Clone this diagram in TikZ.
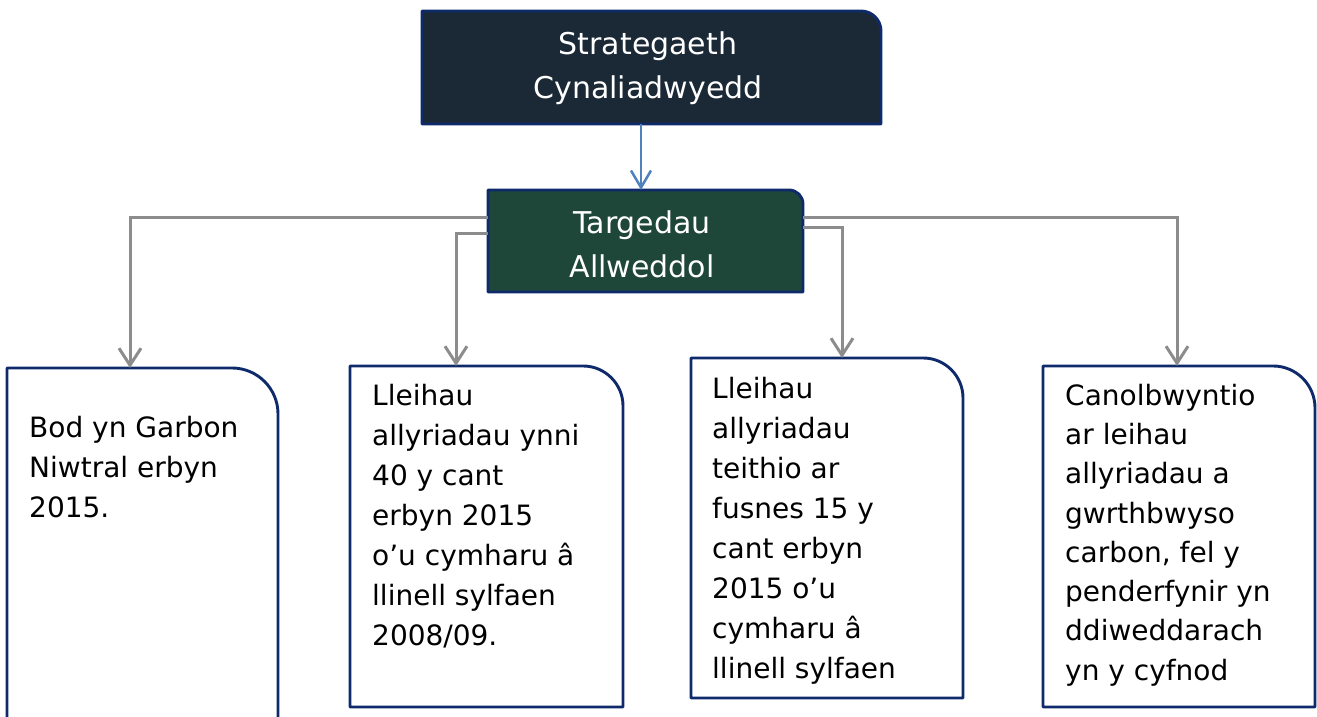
\documentclass[tikz,border=0pt]{standalone}
\usepackage{fontspec}
\setmainfont{DejaVu Sans}
\usetikzlibrary{arrows.meta}
\definecolor{topfill}{HTML}{1B2836}
\definecolor{greenfill}{HTML}{1F4739}
\definecolor{navy}{HTML}{0E2A6B}
\definecolor{conngray}{HTML}{8C8C8C}
\definecolor{connblue}{HTML}{4F81BD}
\tikzset{
  boxnode/.style={rectangle, draw=none, inner sep=0pt, outer sep=0pt},
  outline/.style={draw=navy, line width=2.9pt, line join=round},
  gconn/.style={draw=conngray, line width=3pt, -{Straight Barb[length=17pt,width=22pt]}},
  bconn/.style={draw=connblue, line width=2.5pt, -{Straight Barb[length=17pt,width=20pt]}},
  headtext/.style={text=white, font=\fontsize{30}{44}\selectfont, align=center, anchor=north, inner sep=0pt},
  bodytext/.style={text=black, font=\fontsize{28}{40}\selectfont, align=left, anchor=north west, inner sep=0pt},
}
\begin{document}
\begin{tikzpicture}[x=1pt,y=1pt]
\useasboundingbox (0,0) rectangle (1317,717);
% box nodes (shapes)
\node[boxnode, minimum width=459pt, minimum height=113pt] (s) at (651.5,649.5) {};
\node[boxnode, minimum width=315pt, minimum height=102pt] (g) at (645.5,476) {};
\node[boxnode, minimum width=271pt, minimum height=364pt] (b1) at (142.5,167) {};
\node[boxnode, minimum width=273pt, minimum height=341pt] (b2) at (486.5,180.5) {};
\node[boxnode, minimum width=272pt, minimum height=340pt] (b3) at (827,189) {};
\node[boxnode, minimum width=272pt, minimum height=341pt] (b4) at (1179,180.5) {};
% outlines with one rounded corner
\filldraw[outline, fill=topfill] (s.south west) -- (s.north west) -- ([xshift=-20pt]s.north east) arc[start angle=90,end angle=0,radius=20pt] -- (s.south east) -- cycle;
\filldraw[outline, fill=greenfill] (g.south west) -- (g.north west) -- ([xshift=-14pt]g.north east) arc[start angle=90,end angle=0,radius=14pt] -- (g.south east) -- cycle;
\draw[outline] (b1.south west) -- (b1.north west) -- ([xshift=-46pt]b1.north east) arc[start angle=90,end angle=0,radius=46pt] -- (b1.south east);
\draw[outline] (b2.south west) -- (b2.north west) -- ([xshift=-40pt]b2.north east) arc[start angle=90,end angle=0,radius=40pt] -- (b2.south east) -- cycle;
\draw[outline] (b3.south west) -- (b3.north west) -- ([xshift=-40pt]b3.north east) arc[start angle=90,end angle=0,radius=40pt] -- (b3.south east) -- cycle;
\draw[outline] (b4.south west) -- (b4.north west) -- ([xshift=-42pt]b4.north east) arc[start angle=90,end angle=0,radius=42pt] -- (b4.south east) -- cycle;
% texts
\node[headtext] (st) at (648,687) {\rule{0pt}{24pt}Strategaeth\\Cynaliadwyedd};
\node[headtext] (gt) at (642,508) {\rule{0pt}{24pt}Targedau\\Allweddol};
\node[bodytext] (t1) at (29,304) {\rule{0pt}{24pt}Bod yn Garbon\\Niwtral erbyn\\2015.};
\node[bodytext] (t2) at (372,336) {\rule{0pt}{24pt}Lleihau\\allyriadau ynni\\40 y cant\\erbyn 2015\\o’u cymharu â\\llinell sylfaen\\2008/09.};
\node[bodytext] (t3) at (712,343) {\rule{0pt}{24pt}Lleihau\\allyriadau\\teithio ar\\fusnes 15 y\\cant erbyn\\2015 o’u\\cymharu â\\llinell sylfaen};
\node[bodytext, font=\fontsize{28}{39.3}\selectfont] (t4) at (1065,336) {\rule{0pt}{24pt}Canolbwyntio\\ar leihau\\allyriadau a\\gwrthbwyso\\carbon, fel y\\penderfynir yn\\ddiweddarach\\yn y cyfnod};
% connectors
\draw[bconn] ([xshift=-10.5pt]s.south) -- ([xshift=-4.5pt]g.north);
\draw[gconn] ([yshift=23pt]g.west) -| ([xshift=-12.5pt]b1.north);
\draw[gconn] ([yshift=7pt]g.west) -| ([xshift=-30.5pt]b2.north);
\draw[gconn] ([yshift=13pt]g.east) -| ([xshift=15pt]b3.north);
\draw[gconn] ([yshift=23pt]g.east) -| ([xshift=-2pt]b4.north);
\end{tikzpicture}
\end{document}
